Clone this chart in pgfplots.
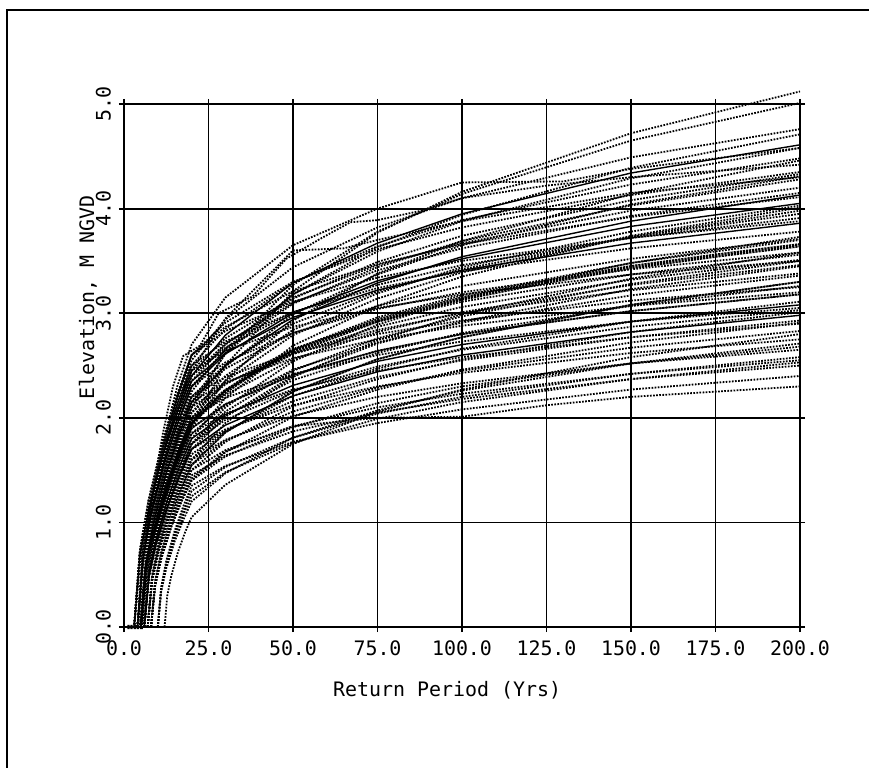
\documentclass[border=0pt]{standalone}
\usepackage{fontspec}
\setmainfont{DejaVu Sans Mono}
\usepackage{pgfplots}
\pgfplotsset{compat=1.18}

% curve styles: dotted runs, solid runs, thick dotted mean
\pgfplotsset{
  dl/.style={black, line width=1.8bp, dash pattern=on 1.7bp off 1.4bp, line cap=butt},
  sl/.style={black, line width=1.4bp, solid},
  ml/.style={black, line width=4.2bp, dash pattern=on 2.2bp off 0.9bp, line cap=butt},
}
\newcommand{\lblfont}{\fontsize{20}{24}\selectfont}

\begin{document}
\begin{tikzpicture}
\useasboundingbox (-124bp,-141bp) rectangle (751bp,627bp);
\begin{axis}[
  at={(0,0)}, anchor=south west,
  scale only axis, width=676bp, height=523bp,
  xmin=0, xmax=200, ymin=0, ymax=5,
  xtick={0,25,...,200}, ytick={0,1,...,5},
  grid=major, major grid style={black, line width=1.8bp},
  axis line style={black, line width=2.2bp},
  tick align=outside, major tick length=5bp,
  tick style={black, line width=1.8bp},
  clip=false,
  xticklabel style={font=\lblfont, anchor=north, inner sep=0pt, yshift=-9bp},
  yticklabel style={font=\lblfont, rotate=90, anchor=south, inner sep=0pt, yshift=8bp},
  /pgf/number format/fixed,
  /pgf/number format/fixed zerofill,
  /pgf/number format/precision=1,
  /pgf/number format/assume math mode=true,
  xlabel={Return Period (Yrs)},
  xlabel style={font=\lblfont, at={(axis description cs:0.478,0)}, anchor=center, yshift=-63bp},
  ylabel={Elevation, M NGVD},
  ylabel style={font=\lblfont, at={(axis description cs:0,0.63)}, anchor=center, yshift=36bp},
]
% --- individual runs
\addplot[dl] coordinates {(5,0)(6.5,0.54)(8.75,0.90)(12.5,1.32)(16.25,1.65)(20,1.93)(30,2.50)(50,3.21)(75,3.77)(100,4.16)(150,4.72)(200,5.12)};
\addplot[dl] coordinates {(4,0)(5.6,0.59)(8,0.98)(12,1.43)(16,1.79)(20,2.10)(30,2.62)(50,3.27)(75,3.78)(100,4.14)(150,4.65)(200,5.01)};
\addplot[dl] coordinates {(4,0)(5.6,0.61)(8,1.00)(12,1.47)(16,1.84)(20,2.15)(30,2.61)(50,3.18)(75,3.63)(100,3.94)(150,4.39)(200,4.71)};
\addplot[sl] coordinates {(1,0)(3,0)(4.7,0.68)(7.25,1.12)(11.5,1.64)(15.75,2.05)(20,2.40)(30,2.79)(50,3.29)(75,3.67)(100,3.95)(150,4.34)(200,4.61)};
\addplot[dl] coordinates {(1,0)(3,0)(4.7,0.60)(7.25,1.05)(11.5,1.75)(15.75,2.30)(20,2.70)(30,3.15)(50,3.65)(75,4.00)(100,4.25)(130,4.26)(150,4.38)(200,4.58)};
\addplot[dl] coordinates {(1,0)(3,0)(4.7,0.71)(7.25,1.17)(11.5,1.71)(15.75,2.14)(20,2.50)(30,2.85)(50,3.29)(75,3.64)(100,3.89)(150,4.23)(200,4.48)};
\addplot[dl] coordinates {(5,0)(6.5,0.59)(8.75,0.98)(12.5,1.43)(16.25,1.79)(20,2.10)(30,2.49)(50,2.99)(75,3.37)(100,3.65)(150,4.04)(200,4.31)};
\addplot[dl] coordinates {(1,0)(3,0)(4.7,0.73)(7.25,1.21)(11.5,1.78)(15.75,2.22)(20,2.60)(30,2.91)(50,3.30)(75,3.61)(100,3.82)(150,4.13)(200,4.35)};
\addplot[dl] coordinates {(6,0)(7.4,0.54)(9.5,0.89)(13,1.30)(16.5,1.62)(20,1.90)(30,2.36)(50,2.93)(75,3.38)(100,3.69)(150,4.14)(200,4.46)};
\addplot[dl] coordinates {(4,0)(5.6,0.66)(8,1.10)(12,1.61)(16,2.01)(20,2.35)(30,2.70)(50,3.14)(75,3.49)(100,3.74)(150,4.08)(200,4.33)};
\addplot[dl] coordinates {(4,0)(5.6,0.69)(8,1.14)(12,1.67)(16,2.09)(20,2.45)(30,2.76)(50,3.15)(75,3.46)(100,3.67)(150,3.98)(200,4.20)};
\addplot[sl] coordinates {(5,0)(6.5,0.61)(8.75,1.00)(12.5,1.47)(16.25,1.84)(20,2.15)(30,2.50)(50,2.94)(75,3.29)(100,3.54)(150,3.88)(200,4.13)};
\addplot[sl] coordinates {(4,0)(5.6,0.65)(8,1.07)(12,1.57)(16,1.96)(20,2.30)(30,2.61)(50,3.00)(75,3.31)(100,3.52)(150,3.83)(200,4.05)};
\addplot[dl] coordinates {(4,0)(5.6,0.73)(8,1.21)(12,1.78)(16,2.22)(20,2.60)(30,2.87)(50,3.21)(75,3.47)(100,3.66)(150,3.92)(200,4.11)};
\addplot[dl] coordinates {(6,0)(7.4,0.51)(9.5,0.84)(13,1.23)(16.5,1.54)(20,1.80)(30,2.19)(50,2.69)(75,3.07)(100,3.35)(150,3.74)(200,4.01)};
\addplot[dl] coordinates {(5,0)(6.5,0.62)(8.75,1.03)(12.5,1.50)(16.25,1.88)(20,2.20)(30,2.51)(50,2.90)(75,3.21)(100,3.42)(150,3.73)(200,3.95)};
\addplot[sl] coordinates {(4,0)(5.6,0.66)(8,1.10)(12,1.61)(16,2.01)(20,2.35)(30,2.62)(50,2.96)(75,3.22)(100,3.41)(150,3.67)(200,3.86)};
\addplot[dl] coordinates {(6,0)(7.4,0.49)(9.5,0.82)(13,1.20)(16.5,1.49)(20,1.75)(30,2.10)(50,2.54)(75,2.89)(100,3.14)(150,3.48)(200,3.73)};
\addplot[dl] coordinates {(4,0)(5.6,0.62)(8,1.03)(12,1.50)(16,1.88)(20,2.20)(30,2.47)(50,2.81)(75,3.07)(100,3.26)(150,3.52)(200,3.71)};
\addplot[dl] coordinates {(1,0)(3,0)(4.7,0.69)(7.25,1.14)(11.5,1.67)(15.75,2.09)(20,2.45)(30,2.64)(50,2.87)(75,3.05)(100,3.18)(150,3.37)(200,3.50)};
\addplot[dl] coordinates {(5,0)(6.5,0.55)(8.75,0.91)(12.5,1.33)(16.25,1.67)(20,1.95)(30,2.22)(50,2.56)(75,2.82)(100,3.01)(150,3.27)(200,3.46)};
\addplot[dl] coordinates {(7,0)(8.3,0.45)(10.25,0.75)(13.5,1.09)(16.75,1.37)(20,1.60)(30,1.95)(50,2.39)(75,2.74)(100,2.99)(150,3.33)(200,3.58)};
\addplot[dl] coordinates {(4,0)(5.6,0.65)(8,1.07)(12,1.57)(16,1.96)(20,2.30)(30,2.53)(50,2.81)(75,3.04)(100,3.20)(150,3.42)(200,3.58)};
\addplot[dl] coordinates {(6,0)(7.4,0.52)(9.5,0.86)(13,1.26)(16.5,1.58)(20,1.85)(30,2.12)(50,2.46)(75,2.72)(100,2.91)(150,3.17)(200,3.36)};
\addplot[dl] coordinates {(5,0)(6.5,0.59)(8.75,0.98)(12.5,1.43)(16.25,1.79)(20,2.10)(30,2.33)(50,2.61)(75,2.84)(100,3.00)(150,3.22)(200,3.38)};
\addplot[dl] coordinates {(7,0)(8.3,0.44)(10.25,0.72)(13.5,1.06)(16.75,1.32)(20,1.55)(30,1.86)(50,2.25)(75,2.56)(100,2.77)(150,3.08)(200,3.30)};
\addplot[dl] coordinates {(4,0)(5.6,0.62)(8,1.03)(12,1.50)(16,1.88)(20,2.20)(30,2.39)(50,2.62)(75,2.80)(100,2.93)(150,3.12)(200,3.25)};
\addplot[dl] coordinates {(6,0)(7.4,0.49)(9.5,0.82)(13,1.20)(16.5,1.49)(20,1.75)(30,2.02)(50,2.36)(75,2.62)(100,2.81)(150,3.07)(200,3.26)};
\addplot[sl] coordinates {(6,0)(7.4,0.51)(9.5,0.84)(13,1.23)(16.5,1.54)(20,1.80)(30,2.03)(50,2.31)(75,2.54)(100,2.70)(150,2.92)(200,3.08)};
\addplot[dl] coordinates {(5,0)(6.5,0.56)(8.75,0.93)(12.5,1.37)(16.25,1.71)(20,2.00)(30,2.19)(50,2.42)(75,2.60)(100,2.73)(150,2.92)(200,3.05)};
\addplot[dl] coordinates {(7,0)(8.3,0.45)(10.25,0.75)(13.5,1.09)(16.75,1.37)(20,1.60)(30,1.87)(50,2.21)(75,2.47)(100,2.66)(150,2.92)(200,3.11)};
\addplot[sl] coordinates {(6,0)(7.4,0.48)(9.5,0.79)(13,1.16)(16.5,1.45)(20,1.70)(30,1.93)(50,2.21)(75,2.44)(100,2.60)(150,2.82)(200,2.98)};
\addplot[dl] coordinates {(5,0)(6.5,0.52)(8.75,0.86)(12.5,1.26)(16.25,1.58)(20,1.85)(30,2.04)(50,2.27)(75,2.45)(100,2.58)(150,2.77)(200,2.90)};
\addplot[dl] coordinates {(8,0)(9.2,0.39)(11,0.65)(14,0.96)(17,1.20)(20,1.40)(30,1.67)(50,2.01)(75,2.27)(100,2.46)(150,2.72)(200,2.91)};
\addplot[dl] coordinates {(7,0)(8.3,0.44)(10.25,0.72)(13.5,1.06)(16.75,1.32)(20,1.55)(30,1.78)(50,2.06)(75,2.29)(100,2.45)(150,2.67)(200,2.83)};
\addplot[dl] coordinates {(6,0)(7.4,0.48)(9.5,0.79)(13,1.16)(16.5,1.45)(20,1.70)(30,1.89)(50,2.12)(75,2.30)(100,2.43)(150,2.62)(200,2.75)};
\addplot[dl] coordinates {(8,0)(9.2,0.39)(11,0.65)(14,0.96)(17,1.20)(20,1.40)(30,1.63)(50,1.91)(75,2.14)(100,2.30)(150,2.52)(200,2.68)};
\addplot[dl] coordinates {(7,0)(8.3,0.45)(10.25,0.75)(13.5,1.09)(16.75,1.37)(20,1.60)(30,1.79)(50,2.02)(75,2.20)(100,2.33)(150,2.52)(200,2.65)};
\addplot[dl] coordinates {(8,0)(9.2,0.42)(11,0.70)(14,1.02)(17,1.28)(20,1.50)(30,1.69)(50,1.92)(75,2.10)(100,2.23)(150,2.42)(200,2.55)};
\addplot[dl] coordinates {(10,0)(11,0.38)(12.5,0.63)(15,0.92)(17.5,1.15)(20,1.35)(30,1.54)(50,1.77)(75,1.95)(100,2.08)(150,2.27)(200,2.40)};
\addplot[dl] coordinates {(8,0)(9.2,0.40)(11,0.66)(14,0.97)(17,1.22)(20,1.42)(30,1.68)(50,1.92)(75,2.00)(100,2.01)(125,2.12)(150,2.20)(200,2.30)};
\addplot[dl] coordinates {(12,0)(12.8,0.30)(14,0.49)(16,0.72)(18,0.90)(20,1.05)(30,1.36)(50,1.75)(75,2.06)(100,2.27)(150,2.58)(200,2.80)};
\addplot[dl] coordinates {(10,0)(11,0.34)(12.5,0.56)(15,0.82)(17.5,1.02)(20,1.20)(30,1.47)(50,1.81)(75,2.07)(100,2.26)(150,2.52)(200,2.71)};
\addplot[dl] coordinates {(10,0)(11,0.37)(12.5,0.61)(15,0.89)(17.5,1.11)(20,1.30)(30,1.53)(50,1.81)(75,2.04)(100,2.20)(150,2.42)(200,2.58)};
\addplot[dl] coordinates {(5,0)(6.5,0.58)(8.75,0.96)(12.5,1.40)(16.25,1.75)(20,2.05)(30,2.40)(50,2.84)(75,3.19)(100,3.44)(150,3.78)(200,4.03)};
\addplot[dl] coordinates {(6,0)(7.4,0.49)(9.5,0.82)(13,1.20)(16.5,1.49)(20,1.75)(30,2.06)(50,2.45)(75,2.76)(100,2.97)(150,3.28)(200,3.50)};
\addplot[dl] coordinates {(1,0)(3,0)(4.7,0.73)(7.25,1.21)(11.5,1.78)(15.75,2.22)(20,2.60)(30,2.83)(50,3.11)(75,3.34)(100,3.50)(150,3.72)(200,3.88)};
\addplot[dl] coordinates {(1,0)(3,0)(4.7,0.62)(7.25,1.08)(11.5,1.85)(14.5,2.30)(17.5,2.59)(22.5,2.69)(28,3.00)(38,3.16)(48,3.52)(58,3.71)(67,3.87)(75,3.89)(88,3.98)(100,4.10)(125,4.22)(150,4.30)(200,4.42)};
\addplot[dl] coordinates {(4,0)(5.6,0.70)(8,1.15)(12,1.70)(16,2.15)(20,2.45)(30,2.95)(50,3.60)(65,3.62)(75,3.70)(100,3.88)(150,4.15)(200,4.30)};
% --- more runs
\addplot[dl] coordinates {(5,0)(6.5,0.63)(8.75,1.05)(12.5,1.54)(16.25,1.92)(20,2.25)(30,2.66)(50,3.18)(75,3.59)(100,3.88)(150,4.29)(200,4.58)};
\addplot[dl] coordinates {(6,0)(7.4,0.56)(9.5,0.93)(13,1.37)(16.5,1.71)(20,2.00)(30,2.35)(50,2.79)(75,3.14)(100,3.39)(150,3.73)(200,3.98)};
\addplot[dl] coordinates {(4,0)(5.6,0.68)(8,1.12)(12,1.64)(16,2.05)(20,2.40)(30,2.67)(50,3.01)(75,3.27)(100,3.46)(150,3.72)(200,3.91)};
\addplot[dl] coordinates {(7,0)(8.3,0.48)(10.25,0.79)(13.5,1.16)(16.75,1.45)(20,1.70)(30,2.01)(50,2.40)(75,2.71)(100,2.92)(150,3.23)(200,3.45)};
\addplot[dl] coordinates {(5,0)(6.5,0.58)(8.75,0.96)(12.5,1.40)(16.25,1.75)(20,2.05)(30,2.32)(50,2.66)(75,2.92)(100,3.11)(150,3.37)(200,3.56)};
\addplot[dl] coordinates {(6,0)(7.4,0.54)(9.5,0.89)(13,1.30)(16.5,1.62)(20,1.90)(30,2.13)(50,2.41)(75,2.64)(100,2.80)(150,3.02)(200,3.18)};
\addplot[dl] coordinates {(8,0)(9.2,0.42)(11,0.70)(14,1.02)(17,1.28)(20,1.50)(30,1.77)(50,2.11)(75,2.37)(100,2.56)(150,2.82)(200,3.01)};
\addplot[dl] coordinates {(7,0)(8.3,0.47)(10.25,0.77)(13.5,1.13)(16.75,1.41)(20,1.65)(30,1.88)(50,2.16)(75,2.39)(100,2.55)(150,2.77)(200,2.93)};
\addplot[dl] coordinates {(8,0)(9.2,0.41)(11,0.68)(14,0.99)(17,1.24)(20,1.45)(30,1.64)(50,1.87)(75,2.05)(100,2.18)(150,2.37)(200,2.50)};
\addplot[dl] coordinates {(4,0)(5.6,0.71)(8,1.17)(12,1.71)(16,2.14)(20,2.50)(30,2.73)(50,3.01)(75,3.24)(100,3.40)(150,3.62)(200,3.78)};
\addplot[dl] coordinates {(5,0)(6.5,0.61)(8.75,1.00)(12.5,1.47)(16.25,1.84)(20,2.15)(30,2.34)(50,2.57)(75,2.75)(100,2.88)(150,3.07)(200,3.20)};
\addplot[dl] coordinates {(6,0)(7.4,0.55)(9.5,0.91)(13,1.33)(16.5,1.67)(20,1.95)(30,2.26)(50,2.65)(75,2.96)(100,3.17)(150,3.48)(200,3.70)};
\addplot[dl] coordinates {(1,0)(3,0)(4.7,0.72)(7.25,1.19)(11.5,1.74)(15.75,2.18)(20,2.55)(30,2.94)(50,3.44)(75,3.82)(100,4.10)(150,4.49)(200,4.76)};
\addplot[dl] coordinates {(5,0)(6.5,0.65)(8.75,1.07)(12.5,1.57)(16.25,1.96)(20,2.30)(30,2.65)(50,3.09)(75,3.44)(100,3.69)(150,4.03)(200,4.28)};
\addplot[dl] coordinates {(10,0)(11,0.35)(12.5,0.58)(15,0.85)(17.5,1.07)(20,1.25)(30,1.48)(50,1.76)(75,1.99)(100,2.15)(150,2.37)(200,2.53)};
\addplot[dl] coordinates {(7,0)(8.3,0.49)(10.25,0.82)(13.5,1.20)(16.75,1.49)(20,1.75)(30,1.98)(50,2.26)(75,2.49)(100,2.65)(150,2.87)(200,3.03)};
\addplot[dl] coordinates {(8,0)(9.2,0.44)(11,0.72)(14,1.06)(17,1.32)(20,1.55)(30,1.86)(50,2.25)(75,2.56)(100,2.77)(150,3.08)(200,3.30)};
\addplot[dl] coordinates {(6,0)(7.4,0.56)(9.5,0.93)(13,1.37)(16.5,1.71)(20,2.00)(30,2.27)(50,2.61)(75,2.87)(100,3.06)(150,3.32)(200,3.51)};
\addplot[dl] coordinates {(4,0)(5.6,0.68)(8,1.12)(12,1.64)(16,2.05)(20,2.40)(30,2.71)(50,3.10)(75,3.41)(100,3.62)(150,3.93)(200,4.15)};
\addplot[dl] coordinates {(5,0)(6.5,0.54)(8.75,0.89)(12.5,1.30)(16.25,1.62)(20,1.90)(30,2.13)(50,2.41)(75,2.64)(100,2.80)(150,3.02)(200,3.18)};
% --- mean curve
\addplot[ml] coordinates {(1,0)(5,0)(6.5,0.55)(8.75,0.91)(12.5,1.33)(16.25,1.67)(20,1.95)(25,2.12)(30,2.25)(40,2.47)(50,2.63)(75,2.93)(100,3.14)(125,3.30)(150,3.44)(175,3.55)(200,3.65)};
\end{axis}
\draw[line width=2.5bp] (-117bp,617bp) -- (745bp,617bp);
\draw[line width=1.3bp] (-117bp,-141bp) -- (-117bp,618bp);
\end{tikzpicture}
\end{document}
